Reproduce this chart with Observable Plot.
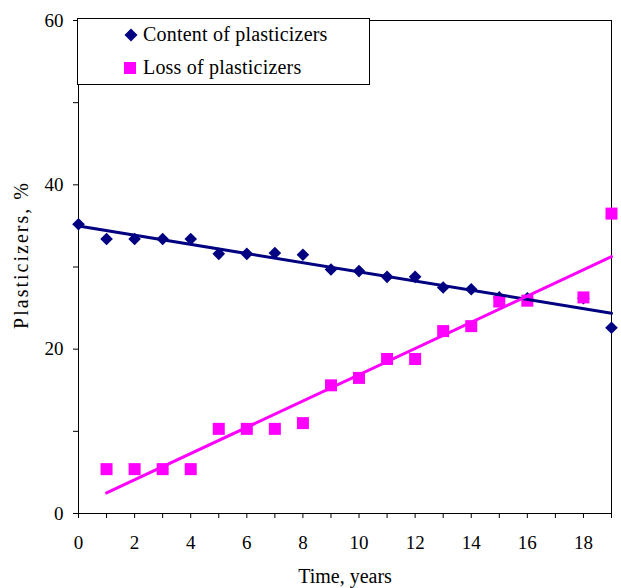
<!DOCTYPE html>
<html><head><meta charset="utf-8">
<script src="https://cdn.jsdelivr.net/npm/d3@7"></script>
<script src="https://cdn.jsdelivr.net/npm/@observablehq/plot@0.6"></script>
<style>body{margin:0;background:#fff} #chart{position:relative;width:621px;height:588px}</style>
</head><body><div id="chart"></div>
<script>
// Data
const seriesNames = ["Content of plasticizers", "Loss of plasticizers"];
const contentYears = [0,1,2,3,4,5,6,7,8,9,10,11,12,13,14,15,16,18,19];
const contentValues = [35.2,33.4,33.4,33.4,33.4,31.6,31.6,31.7,31.5,29.7,29.5,28.8,28.8,27.5,27.3,26.3,26.2,26.2,22.6];
const lossYears = [1,2,3,4,5,6,7,8,9,10,11,12,13,14,15,16,18,19];
const lossValues = [5.4,5.4,5.4,5.4,10.3,10.3,10.3,11.0,15.6,16.5,18.8,18.8,22.2,22.8,25.8,25.9,26.3,36.5];
const xTicks = [0,1,2,3,4,5,6,7,8,9,10,11,12,13,14,15,16,17,18,19];
const yTicks = [0,10,20,30,40,50,60];
const xTitle = "Time, years";
const yTitle = "Plasticizers, %";

const colors = ["#000080", "#ff00ff"];

const contentData = contentYears.map((x, i) => ({x, y: contentValues[i]}));
const lossData = lossYears.map((x, i) => ({x, y: lossValues[i]}));

const diamond = {draw(ctx, size) { const h = Math.sqrt(size / Math.PI); ctx.moveTo(0, -h); ctx.lineTo(h, 0); ctx.lineTo(0, h); ctx.lineTo(-h, 0); ctx.closePath(); }};
const square = {draw(ctx, size) { const h = Math.sqrt(size / Math.PI); ctx.rect(-h, -h, 2 * h, 2 * h); }};

const font = "'Liberation Serif', 'Times New Roman', serif";

const chart = Plot.plot({
  width: 621, height: 588,
  marginLeft: 78, marginRight: 10, marginTop: 20, marginBottom: 75,
  x: {domain: [0, 19]},
  y: {domain: [0, 60]},
  style: {fontFamily: font, fontSize: "19px", color: "#000", background: "#fff"},
  marks: [
    Plot.frame({stroke: "#000", strokeWidth: 1}),
    Plot.axisX({ticks: xTicks, tickFormat: d => (d % 2 === 0 && d < 19) ? String(d) : "", tickSize: 5, tickPadding: 17, label: null}),
    Plot.axisY({ticks: yTicks, tickFormat: d => d % 20 === 0 ? String(d) : "", tickSize: 5, tickPadding: 10, label: null}),
    Plot.dot(contentData, {x: "x", y: "y", symbol: diamond, r: 6.3, fill: colors[0], stroke: "none"}),
    Plot.dot(lossData, {x: "x", y: "y", symbol: square, r: 6, fill: colors[1], stroke: "none"}),
    Plot.linearRegressionY(contentData, {x: "x", y: "y", stroke: colors[0], strokeWidth: 3, ci: 0}),
    Plot.linearRegressionY(lossData, {x: "x", y: "y", stroke: colors[1], strokeWidth: 3, ci: 0}),
    Plot.text([xTitle], {text: d => d, frameAnchor: "bottom", textAnchor: "middle", dy: 69, fontSize: 20, fill: "#000"}),
    Plot.text([yTitle], {text: d => d, frameAnchor: "left", textAnchor: "middle", dx: -57, dy: -12, rotate: -90, fontSize: 20, fill: "#000", className: "ytitle"})
  ]
});
document.getElementById("chart").appendChild(chart);

const svg = d3.select(chart);
svg.selectAll(".ytitle text").attr("letter-spacing", "2px");

// Legend box drawn inside the SVG
const lg = svg.append("g").attr("class", "legend").attr("text-anchor", "start");
lg.append("rect").attr("x", 77.5).attr("y", 18.5).attr("width", 292).attr("height", 66)
  .attr("fill", "#fff").attr("stroke", "#000").attr("stroke-width", 1);
const items = [
  {name: seriesNames[0], color: colors[0], sym: "diamond", cy: 35, base: 41},
  {name: seriesNames[1], color: colors[1], sym: "square", cy: 68, base: 74}
];
items.forEach(it => {
  if (it.sym === "diamond") {
    lg.append("path").attr("d", `M131,${it.cy - 6.5}L137.5,${it.cy}L131,${it.cy + 6.5}L124.5,${it.cy}Z`).attr("fill", it.color);
  } else {
    lg.append("rect").attr("x", 124).attr("y", it.cy - 6).attr("width", 12).attr("height", 12).attr("fill", it.color);
  }
  lg.append("text").attr("x", 143).attr("y", it.base).text(it.name)
    .attr("text-anchor", "start").attr("letter-spacing", "0.2px")
    .attr("font-family", font).attr("font-size", 20).attr("fill", "#000");
});
</script>
</body></html>
